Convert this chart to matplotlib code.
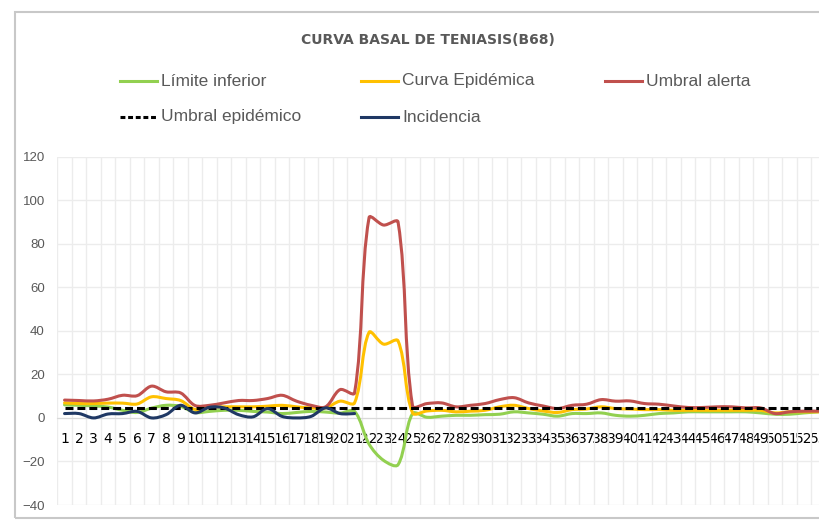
import numpy as np
import matplotlib
matplotlib.use('Agg')
import matplotlib.pyplot as plt
from matplotlib.path import Path
from matplotlib.patches import PathPatch, Rectangle
from matplotlib.lines import Line2D

# semanas epidemiologicas
semanas = list(range(1, 54))

limite_inferior = [6.0, 5.8, 5.5, 5.0, 3.5, 2.5, 4.5, 5.8, 5.3, 2.5,
                   3.0, 3.5, 3.5, 3.0, 2.7, 2.0, 2.5, 3.0, 2.7, 2.2,
                   3.0, -12.0, -19.5, -21.5, 2.0, 0.3, 0.8, 1.2, 1.2, 1.5,
                   1.7, 2.8, 2.3, 1.7, 0.8, 2.0, 2.0, 2.3, 1.2, 0.8,
                   1.2, 2.0, 2.3, 2.8, 2.8, 2.8, 2.8, 2.8, 2.3, 1.7,
                   1.7, 2.3, 2.8]
curva_epidemica = [6.9, 6.6, 6.6, 6.8, 6.8, 6.4, 9.7, 8.9, 8.0, 3.9,
                   4.8, 5.1, 5.1, 5.1, 5.4, 5.8, 5.1, 4.6, 4.6, 7.7,
                   6.9, 39.3, 33.9, 35.4, 2.3, 3.2, 3.5, 2.8, 3.1, 3.5,
                   5.1, 5.8, 4.3, 3.2, 2.5, 3.8, 4.1, 5.1, 4.3, 4.1,
                   3.8, 3.8, 3.5, 3.5, 3.5, 3.5, 3.5, 3.5, 3.5, 2.3,
                   2.8, 2.8, 2.8]
umbral_alerta = [8.2, 8.0, 7.8, 8.6, 10.4, 10.2, 14.6, 12.0, 11.5, 5.7,
                 5.8, 6.9, 8.0, 8.0, 8.9, 10.4, 7.7, 5.8, 5.1, 13.0,
                 11.5, 92.0, 88.6, 90.0, 5.5, 6.6, 6.9, 5.1, 5.8, 6.6,
                 8.4, 9.3, 6.9, 5.5, 4.3, 5.8, 6.3, 8.4, 7.7, 7.8,
                 6.6, 6.3, 5.5, 4.8, 4.8, 5.1, 5.1, 4.6, 4.6, 2.0,
                 2.8, 3.1, 3.1]
umbral_epidemico = [4.6] * 53
incidencia = [2.0, 2.0, 0.0, 1.8, 2.0, 3.0, 0.0, 1.5, 5.8, 2.3,
              4.9, 4.6, 1.5, 0.5, 4.3, 0.7, 0.0, 0.7, 4.6, 2.0,
              2.0]

FUENTE = ['Liberation Sans', 'DejaVu Sans']
GRIS = '#595959'
W, H = 820, 521

fig = plt.figure(figsize=(W / 100, H / 100), dpi=100)
ax = fig.add_axes([57.3 / W, 1 - 505 / H, 768.5 / W, (505 - 156.7) / H])
ax.set_xlim(0.5, 53.5)
ax.set_ylim(-40, 120)

# escala en pixeles para suavizar como Excel
caja = ax.get_window_extent()
sx = caja.width / 53
sy = caja.height / 160


def curva_suave(y):
    # bezier cubica con tangentes ponderadas por longitud de cuerda
    pts = np.column_stack([semanas[:len(y)], y]).astype(float) * [sx, sy]
    n = len(pts)
    verts = [pts[0]]
    codes = [Path.MOVETO]
    for i in range(n - 1):
        p0 = pts[max(i - 1, 0)]
        p1 = pts[i]
        p2 = pts[i + 1]
        p3 = pts[min(i + 2, n - 1)]
        d01 = np.hypot(*(p1 - p0))
        d12 = np.hypot(*(p2 - p1))
        d23 = np.hypot(*(p3 - p2))
        f1 = d12 / (d01 + d12) / 3 if d01 > 0 else 1 / 6
        f2 = d12 / (d12 + d23) / 3 if d23 > 0 else 1 / 6
        verts += [p1 + (p2 - p0) * f1, p2 - (p3 - p1) * f2, p2]
        codes += [Path.CURVE4] * 3
    verts = np.array(verts) / [sx, sy]
    return Path(verts, codes)


series = [
    ('Límite inferior', limite_inferior, '#92d050'),
    ('Curva Epidémica', curva_epidemica, '#ffc000'),
    ('Umbral alerta', umbral_alerta, '#c0504d'),
]
for nombre, datos, color in series:
    ax.add_patch(PathPatch(curva_suave(datos), fill=False, edgecolor=color,
                           lw=2.2, capstyle='round', joinstyle='round', zorder=3))

ax.plot(semanas, umbral_epidemico, color='black', lw=2.2, dashes=(2.6, 1.3), zorder=4)
ax.add_patch(PathPatch(curva_suave(incidencia), fill=False, edgecolor='#1f3864',
                       lw=2.2, capstyle='round', joinstyle='round', zorder=5))

ax.set_yticks(range(-40, 121, 20))
ax.set_xticks(semanas)
ax.set_xticklabels([str(s) for s in semanas], family=FUENTE, fontsize=9.2, color=GRIS)
ax.set_xticks(np.arange(0.5, 54, 1), minor=True)
for lbl in ax.get_yticklabels():
    lbl.set_family(FUENTE)
    lbl.set_fontsize(9.5)
    lbl.set_color(GRIS)
ax.tick_params(axis='both', which='both', length=0)
ax.tick_params(axis='x', pad=10)
ax.tick_params(axis='y', pad=9)
ax.grid(axis='y', which='major', color='#ececec', lw=1)
ax.grid(axis='x', which='minor', color='#ececec', lw=1)
ax.set_axisbelow(True)
for s in ['top', 'right', 'left']:
    ax.spines[s].set_visible(False)
ax.spines['bottom'].set_position(('data', 0))
ax.spines['bottom'].set_color('#d9d9d9')
ax.spines['bottom'].set_zorder(1)

# titulo
fig.text(428 / W, 1 - 40 / H, 'CURVA BASAL DE TENIASIS(B68)', ha='center', va='center',
         fontsize=10, fontweight='bold', color=GRIS)

# leyenda
leyenda = [
    ('Límite inferior', '#92d050', None, 120, 81),
    ('Curva Epidémica', '#ffc000', None, 361, 81),
    ('Umbral alerta', '#c0504d', None, 605, 81),
    ('Umbral epidémico', 'black', (1.6, 0.9), 120, 117),
    ('Incidencia', '#1f3864', None, 361, 117),
]
for texto, color, guion, px, py in leyenda:
    ln = Line2D([px / W, (px + 37) / W], [1 - py / H, 1 - py / H], color=color, lw=2.2,
                transform=fig.transFigure)
    if guion:
        ln.set_dashes(guion)
    fig.add_artist(ln)
    fig.text((px + 41) / W, 1 - py / H, texto, ha='left', va='center', family=FUENTE,
             fontsize=12.5, color=GRIS)

# marco del grafico
fig.add_artist(Rectangle((15 / W, 1 - 518 / H), 820 / W, 506 / H, fill=False,
                         edgecolor='#c8c8c8', lw=1.5, transform=fig.transFigure))

fig.savefig('out.png', dpi=100)
